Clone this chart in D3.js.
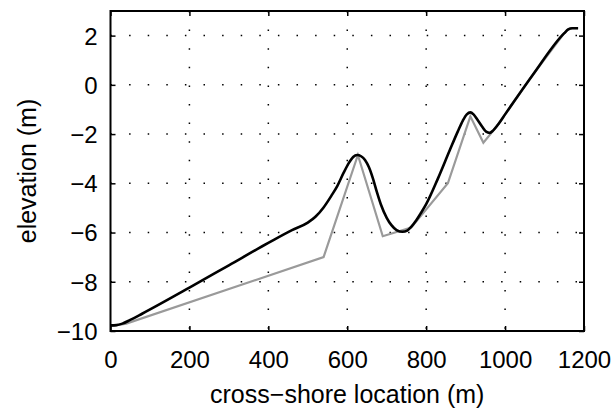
<!DOCTYPE html>
<html>
<head>
<meta charset="utf-8">
<script src="https://cdn.jsdelivr.net/npm/d3@7"></script>
<style>
  html, body { margin: 0; padding: 0; background: #fff; }
  svg { display: block; }
  text { font-family: "Liberation Sans", Helvetica, Arial, sans-serif; fill: #000; }
</style>
</head>
<body>
<svg id="chart" width="614" height="412"></svg>
<script>
// Measured profile (black, smooth)
const measuredX = [0, 15, 30, 50, 80, 200, 300, 400, 460, 500, 520, 540, 560, 575, 590, 605, 615, 625, 635, 645, 655, 665, 675, 685, 700, 712, 725, 740, 752, 762, 775, 785, 800, 830, 860, 880, 893, 903, 912, 920, 930, 942, 952, 961, 970, 985, 1000, 1070, 1150, 1160, 1170, 1185];
const measuredY = [-9.77, -9.76, -9.70, -9.55, -9.30, -8.24, -7.33, -6.42, -5.90, -5.60, -5.35, -4.98, -4.50, -4.10, -3.60, -3.15, -2.93, -2.85, -2.90, -3.05, -3.35, -3.80, -4.35, -4.85, -5.40, -5.70, -5.90, -5.97, -5.92, -5.77, -5.50, -5.25, -4.85, -3.80, -2.65, -1.90, -1.45, -1.20, -1.12, -1.20, -1.42, -1.70, -1.90, -1.95, -1.85, -1.55, -1.20, 0.40, 2.10, 2.25, 2.30, 2.30];
// Initial / schematic profile (grey, piecewise linear)
const initialX = [0, 40, 540, 627, 690, 762, 855, 912, 945, 968, 985, 1000, 1070, 1150, 1160, 1170, 1185];
const initialY = [-9.80, -9.70, -7.00, -2.85, -6.15, -5.80, -4.00, -1.28, -2.35, -1.90, -1.55, -1.20, 0.40, 2.10, 2.25, 2.30, 2.30];

const xTicks = [0, 200, 400, 600, 800, 1000, 1200];
const yTicks = [-10, -8, -6, -4, -2, 0, 2];
const xLabel = "cross\u2212shore location (m)";
const yLabel = "elevation (m)";

const L = 110.5, R = 584, T = 11, B = 331;
const svg = d3.select("#chart");
const x = d3.scaleLinear().domain([0, 1200]).range([L, R]);
const y = d3.scaleLinear().domain([-10, 3]).range([B, T]);
const fmt = d => String(d).replace("-", "\u2212");

// grid
const grid = svg.append("g").attr("stroke", "#000").attr("stroke-width", 1.5)
  .attr("stroke-dasharray", "1.5,17.1").attr("fill", "none");
xTicks.slice(1, -1).forEach(t => {
  grid.append("line").attr("x1", x(t)).attr("x2", x(t)).attr("y1", T).attr("y2", B);
});
yTicks.slice(1).forEach(t => {
  grid.append("line").attr("x1", L).attr("x2", R).attr("y1", y(t)).attr("y2", y(t));
});

// lines
const lineGen = d3.line().x(d => x(d[0])).y(d => y(d[1]));
svg.append("path").datum(d3.zip(initialX, initialY))
  .attr("d", lineGen).attr("fill", "none").attr("stroke", "#9a9a9a")
  .attr("stroke-width", 2.2).attr("stroke-linejoin", "miter");
svg.append("path").datum(d3.zip(measuredX, measuredY))
  .attr("d", d3.line().curve(d3.curveMonotoneX).x(d => x(d[0])).y(d => y(d[1])))
  .attr("fill", "none").attr("stroke", "#000")
  .attr("stroke-width", 2.6).attr("stroke-linejoin", "round");

// axes (ticks inward on all sides)
const tl = 5;
const axB = svg.append("g").attr("transform", `translate(0,${B})`)
  .call(d3.axisBottom(x).tickValues(xTicks).tickSize(-tl).tickFormat(fmt));
const axT = svg.append("g").attr("transform", `translate(0,${T})`)
  .call(d3.axisTop(x).tickValues(xTicks).tickSize(-tl).tickFormat(""));
const axL = svg.append("g").attr("transform", `translate(${L},0)`)
  .call(d3.axisLeft(y).tickValues(yTicks).tickSize(-tl).tickFormat(fmt));
const axR = svg.append("g").attr("transform", `translate(${R},0)`)
  .call(d3.axisRight(y).tickValues(yTicks).tickSize(-tl).tickFormat(""));
[axB, axT, axL, axR].forEach(a => {
  a.select(".domain").remove();
  a.selectAll(".tick line").attr("stroke", "#000").attr("stroke-width", 1.5);
  a.selectAll("text").style("font-size", "24px").attr("fill", "#000")
    .style("font-family", '"Liberation Sans", Helvetica, Arial, sans-serif');
});
axB.selectAll("text").attr("dy", null).attr("y", 37);
axL.selectAll("text").attr("dy", "0.35em").attr("x", -13);

// frame
svg.append("rect").attr("x", L).attr("y", T).attr("width", R - L).attr("height", B - T)
  .attr("fill", "none").attr("stroke", "#000").attr("stroke-width", 2);

// labels
svg.append("text").attr("x", (L + R) / 2).attr("y", 403).attr("text-anchor", "middle")
  .style("font-size", "25px").text(xLabel);
svg.append("text").attr("transform", `translate(36,${(T + B) / 2}) rotate(-90)`)
  .attr("text-anchor", "middle").style("font-size", "25px").text(yLabel);
</script>
</body>
</html>
